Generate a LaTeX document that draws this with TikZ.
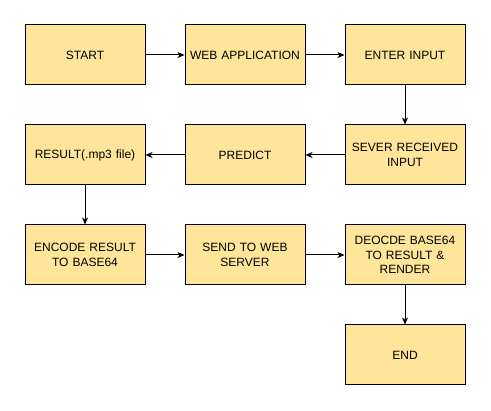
\documentclass[tikz,border=0pt]{standalone}
\usepackage{fontspec}
\setmainfont{Liberation Sans}
\usetikzlibrary{arrows.meta}
\definecolor{boxfill}{HTML}{FFE599}
\begin{document}
\begin{tikzpicture}[x=1pt,y=-1pt,
  stepbox/.style={draw=black,line width=1pt,fill=boxfill,minimum width=120pt,minimum height=60pt,
    inner sep=2pt,align=center,font=\fontsize{12}{14.5}\selectfont,text width=114pt},
  conn/.style={draw=black,line width=1pt,-{Stealth[length=7pt,width=6pt,inset=2pt]}}]
\useasboundingbox[fill=white] (0,0) rectangle (491,411);
\node[stepbox] (start) at (85,55) {START};
\node[stepbox] (web) at (245,55) {WEB APPLICATION};
\node[stepbox] (enter) at (405,55) {ENTER INPUT};
\node[stepbox] (sever) at (405,155) {SEVER RECEIVED\\INPUT};
\node[stepbox] (predict) at (245,155) {PREDICT};
\node[stepbox] (result) at (85,155) {RESULT(.mp3 file)};
\node[stepbox] (encode) at (85,255) {ENCODE RESULT\\TO BASE64};
\node[stepbox] (send) at (245,255) {SEND TO WEB\\SERVER};
\node[stepbox] (decode) at (405,255) {DEOCDE BASE64\\TO RESULT \&\\RENDER};
\node[stepbox] (end) at (405,355) {END};
\draw[conn] (start) -- (web);
\draw[conn] (web) -- (enter);
\draw[conn] (enter) -- (sever);
\draw[conn] (sever) -- (predict);
\draw[conn] (predict) -- (result);
\draw[conn] (result) -- (encode);
\draw[conn] (encode) -- (send);
\draw[conn] (send) -- (decode);
\draw[conn] (decode) -- (end);
\end{tikzpicture}
\end{document}
